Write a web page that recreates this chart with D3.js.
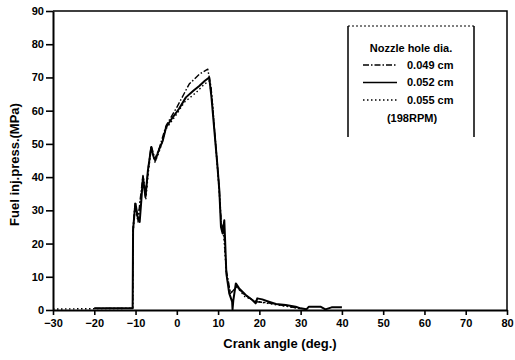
<!DOCTYPE html>
<html>
<head>
<meta charset="utf-8">
<script src="https://cdn.jsdelivr.net/npm/d3@7"></script>
<style>
  html, body { margin: 0; padding: 0; background: #fff; overflow: hidden; width: 100%; height: 100%; }
  #chart { width: 100%; height: 100%; }
  svg { display: block; font-family: "Liberation Sans", Arial, sans-serif; }
</style>
</head>
<body>
<div id="chart"></div>
<script>
// crank angle (deg.) and fuel injection pressure (MPa)
const angle052 = [-20, -10.7, -10.6, -10.2, -10.0, -9.5, -9.0, -8.6, -8.2, -7.6, -7.0, -6.2, -5.6, -5.2, -4.4, -3.4, -2.6, -1.0, 0.5, 2.2, 4.0, 5.5, 6.8, 7.85, 8.4, 9.1, 9.8, 10.3, 10.7, 11.1, 11.5, 11.7, 12.0, 12.7, 13.4, 13.5, 13.7, 14.3, 15.1, 16.7, 18.3, 19.1, 19.5, 20.7, 22.3, 24.0, 26.4, 28.8, 30.0, 31.4, 32.0, 34.8, 36.0, 37.5, 40.0]
const press052 = [0.5, 0.5, 24, 30, 32, 28, 26.5, 33, 40, 34, 42, 49, 46, 45, 48, 51, 55, 58, 60.5, 64, 66, 67.5, 69, 70, 64, 54, 44, 36, 25, 23, 27, 21, 11, 5, 2.5, 0.2, 3, 8, 6.5, 4.5, 3, 2, 3.5, 3.2, 2.5, 1.8, 1.5, 1, 0.5, 0.2, 1, 1, 0.2, 0.8, 0.8]

const angle049 = [-20, -10.7, -10.6, -10.1, -9.4, -8.9, -8.2, -7.5, -6.9, -6.2, -5.3, -4.3, -2.6, 0, 3.0, 5.5, 7.5, 8.3, 9.1, 10.2, 10.8, 11.4, 12.0, 13.0, 14.5, 16.5, 19.0, 22.0, 26.0, 30.0]
const press049 = [0.5, 0.5, 25, 32.5, 27, 33, 40.5, 35, 43, 49.5, 45.5, 48.5, 55.5, 61, 68, 71, 72.5, 67, 55, 38, 26, 24, 12, 5, 7, 4.5, 2.5, 2.2, 1.3, 0.4]

const angle055 = [-30, -20, -10.7, -10.6, -10.1, -9.4, -8.9, -8.2, -7.5, -6.9, -6.2, -5.3, -4.3, -2.6, 0, 1.8, 4.7, 6.7, 7.9, 8.6, 9.2, 10.2, 10.8, 11.4, 12.0, 13.0, 14.5, 16.5, 19.0, 22.0, 26.0, 30.0]
const press055 = [0.3, 0.4, 0.5, 23, 31, 26.5, 32.5, 39, 33.5, 41.5, 48.5, 44.5, 47.5, 54.5, 59, 62.5, 65.5, 68, 69, 63, 53, 37, 25, 22, 11, 5, 7, 4, 2.7, 2, 1.2, 0.4]

const legendLabels = ["0.049 cm", "0.052 cm", "0.055 cm"]
const xTicks = [-30, -20, -10, 0, 10, 20, 30, 40, 50, 60, 70, 80]
const yTicks = [0, 10, 20, 30, 40, 50, 60, 70, 80, 90]

const series = [
    {label: legendLabels[0], angle: angle049, press: press049, dash: "6,2,1.5,2", width: 1.4},
    {label: legendLabels[1], angle: angle052, press: press052, dash: null, width: 2},
    {label: legendLabels[2], angle: angle055, press: press055, dash: "1.5,2.5", width: 1.4}
]

const width = 515
const height = 360
const margin = {top: 11, right: 8, bottom: 50, left: 53}
const innerWidth = width - margin.left - margin.right
const innerHeight = height - margin.top - margin.bottom

// scale the drawing to whatever window it is opened in
const svg = d3.select("#chart").append("svg")
              .attr("width", "100%")
              .attr("height", "100%")
              .attr("viewBox", [0, 0, width, height])
              .attr("preserveAspectRatio", "xMidYMid meet")
const chart = svg.append("g")
                 .attr("transform", `translate(${margin.left}, ${margin.top})`)

// scales
const xScale = d3.scaleLinear().domain([-30, 80]).range([0, innerWidth])
const yScale = d3.scaleLinear().domain([0, 90]).range([innerHeight, 0])

// axes
const xAxis = d3.axisBottom(xScale).tickValues(xTicks).tickSize(5).tickSizeOuter(0).tickPadding(4)
const yAxis = d3.axisLeft(yScale).tickValues(yTicks).tickSize(7).tickSizeOuter(0).tickPadding(2)
chart.append("g")
     .attr("class", "x-axis")
     .attr("transform", `translate(0, ${innerHeight})`)
     .call(xAxis)
chart.append("g")
     .attr("class", "y-axis")
     .call(yAxis)
chart.selectAll(".x-axis path, .y-axis path")
     .attr("stroke", "#000")
     .attr("stroke-width", 2)
chart.selectAll(".x-axis line, .y-axis line")
     .attr("stroke", "#000")
     .attr("stroke-width", 1.6)
chart.selectAll(".x-axis text, .y-axis text")
     .attr("font-size", "11px")
     .attr("font-weight", "bold")
     .attr("fill", "#000")

// top and right frame
chart.append("path")
     .attr("d", `M0,0H${innerWidth}V${innerHeight}`)
     .attr("fill", "none")
     .attr("stroke", "#000")
     .attr("stroke-width", 1.5)

// axis titles
svg.append("text")
   .attr("x", margin.left + innerWidth / 2)
   .attr("y", 348)
   .attr("text-anchor", "middle")
   .attr("font-size", "13px")
   .attr("font-weight", "bold")
   .text("Crank angle (deg.)")
svg.append("text")
   .attr("transform", `translate(19, ${margin.top + innerHeight / 2 + 4}) rotate(-90)`)
   .attr("text-anchor", "middle")
   .attr("font-size", "13px")
   .attr("font-weight", "bold")
   .text("Fuel inj.press.(MPa)")

// traces
const line = d3.line()
               .x(d => xScale(d[0]))
               .y(d => yScale(d[1]))
chart.selectAll(".trace")
     .data(series)
     .join("path")
     .attr("class", "trace")
     .attr("d", s => line(s.angle.map((a, i) => [a, s.press[i]])))
     .attr("fill", "none")
     .attr("stroke", "#000")
     .attr("stroke-width", s => s.width)
     .attr("stroke-dasharray", s => s.dash)
     .attr("stroke-linejoin", "round")

// legend
const legend = svg.append("g")
                  .attr("transform", "translate(348, 26)")
legend.append("path")
      .attr("d", "M0,111V0M126,0V111")
      .attr("stroke", "#000")
      .attr("stroke-width", 1.5)
legend.append("line")
      .attr("x1", 0).attr("x2", 126)
      .attr("stroke", "#000")
      .attr("stroke-dasharray", "2,2")
legend.append("text")
      .attr("x", 63)
      .attr("y", 26)
      .attr("text-anchor", "middle")
      .attr("font-size", "11px")
      .attr("font-weight", "bold")
      .text("Nozzle hole dia.")
const rows = legend.selectAll(".row")
                   .data(series)
                   .join("g")
                   .attr("class", "row")
                   .attr("transform", (d, i) => `translate(0, ${39 + i * 17.5})`)
rows.append("line")
    .attr("x1", 15).attr("x2", 49)
    .attr("stroke", "#000")
    .attr("stroke-width", d => d.width === 2 ? 1.6 : 1.4)
    .attr("stroke-dasharray", d => d.dash)
rows.append("text")
    .attr("x", 59)
    .attr("dy", "0.35em")
    .attr("font-size", "11px")
    .attr("font-weight", "bold")
    .text(d => d.label)
legend.append("text")
      .attr("x", 64)
      .attr("y", 96)
      .attr("text-anchor", "middle")
      .attr("font-size", "11px")
      .attr("font-weight", "bold")
      .text("(198RPM)")
</script>
</body>
</html>
